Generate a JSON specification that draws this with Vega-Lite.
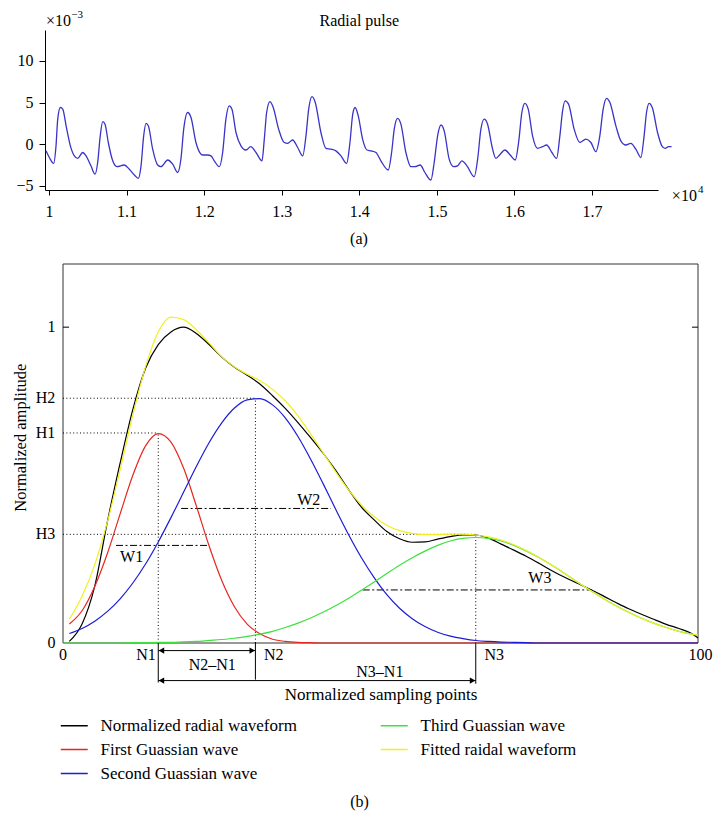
{
  "$schema": "https://vega.github.io/schema/vega-lite/v6.json",
  "background": "white",
  "padding": {"left": 12, "top": 9, "right": 0, "bottom": 0},
  "bounds": "flush",
  "spacing": 74,
  "config": {
    "view": {"stroke": null},
    "font": "Liberation Serif",
    "axis": {"labelFont": "Liberation Serif", "labelFontSize": 16, "labelColor": "black", "domainColor": "black", "tickColor": "black", "domainWidth": 1, "tickWidth": 1, "grid": false},
    "text": {"font": "Liberation Serif", "fontSize": 16, "color": "black"}
  },
  "datasets": {
    "pulse": [
      {"t":0.9961,"v":-0.8},{"t":1.0004,"v":-1.6},{"t":1.006,"v":-2.3},{"t":1.009,"v":-0.2},{"t":1.0112,"v":3.0},{"t":1.0146,"v":4.4},{"t":1.0177,"v":4.2},{"t":1.022,"v":2.2},{"t":1.0275,"v":-0.2},{"t":1.0326,"v":-1.4},{"t":1.037,"v":-1.7},{"t":1.0434,"v":-1.0},{"t":1.0477,"v":-1.4},{"t":1.054,"v":-2.6},{"t":1.0593,"v":-3.6},{"t":1.0627,"v":-2.2},{"t":1.066,"v":1.0},{"t":1.0692,"v":2.7},{"t":1.0722,"v":2.4},{"t":1.0764,"v":0.2},{"t":1.0821,"v":-2.0},{"t":1.0876,"v":-2.7},{"t":1.097,"v":-2.5},{"t":1.1035,"v":-3.0},{"t":1.11,"v":-3.7},{"t":1.1151,"v":-4.1},{"t":1.1186,"v":-2.6},{"t":1.122,"v":1.0},{"t":1.125,"v":2.5},{"t":1.128,"v":2.2},{"t":1.1336,"v":-0.6},{"t":1.14,"v":-2.5},{"t":1.1443,"v":-2.7},{"t":1.153,"v":-1.9},{"t":1.1594,"v":-2.4},{"t":1.1658,"v":-3.4},{"t":1.17,"v":-1.8},{"t":1.1736,"v":1.8},{"t":1.1787,"v":3.8},{"t":1.183,"v":3.2},{"t":1.1894,"v":0.2},{"t":1.195,"v":-1.1},{"t":1.198,"v":-1.3},{"t":1.2045,"v":-1.3},{"t":1.2088,"v":-1.4},{"t":1.213,"v":-2.0},{"t":1.2195,"v":-2.7},{"t":1.2238,"v":-1.0},{"t":1.228,"v":3.0},{"t":1.2323,"v":4.6},{"t":1.2358,"v":4.2},{"t":1.241,"v":1.4},{"t":1.2474,"v":-0.2},{"t":1.2539,"v":-0.7},{"t":1.26,"v":-0.3},{"t":1.2668,"v":-1.0},{"t":1.2745,"v":-2.0},{"t":1.2775,"v":0.6},{"t":1.2805,"v":3.8},{"t":1.2848,"v":5.1},{"t":1.289,"v":4.4},{"t":1.296,"v":1.8},{"t":1.3032,"v":0.2},{"t":1.3076,"v":0.1},{"t":1.314,"v":0.5},{"t":1.3205,"v":-0.4},{"t":1.327,"v":-1.4},{"t":1.3312,"v":1.0},{"t":1.3347,"v":4.2},{"t":1.339,"v":5.7},{"t":1.3432,"v":5.0},{"t":1.3505,"v":1.4},{"t":1.357,"v":-0.5},{"t":1.3634,"v":-0.6},{"t":1.3698,"v":-0.8},{"t":1.3763,"v":-1.4},{"t":1.3836,"v":-2.3},{"t":1.3879,"v":0.2},{"t":1.3915,"v":3.6},{"t":1.3945,"v":4.4},{"t":1.3986,"v":3.4},{"t":1.4042,"v":0.6},{"t":1.4098,"v":-0.7},{"t":1.415,"v":-0.8},{"t":1.4214,"v":-1.0},{"t":1.4278,"v":-2.0},{"t":1.4373,"v":-3.1},{"t":1.4416,"v":-1.0},{"t":1.445,"v":1.8},{"t":1.4493,"v":3.1},{"t":1.4536,"v":2.4},{"t":1.46,"v":-1.0},{"t":1.4665,"v":-2.7},{"t":1.4716,"v":-2.7},{"t":1.4785,"v":-2.5},{"t":1.4845,"v":-3.4},{"t":1.4923,"v":-4.3},{"t":1.4965,"v":-2.2},{"t":1.5009,"v":1.0},{"t":1.5052,"v":2.3},{"t":1.5094,"v":1.6},{"t":1.5158,"v":-1.8},{"t":1.5215,"v":-2.7},{"t":1.5267,"v":-2.6},{"t":1.5322,"v":-2.0},{"t":1.5387,"v":-2.6},{"t":1.5481,"v":-3.9},{"t":1.5525,"v":-1.8},{"t":1.5567,"v":1.8},{"t":1.561,"v":3.0},{"t":1.5653,"v":2.4},{"t":1.5718,"v":-0.6},{"t":1.576,"v":-1.7},{"t":1.5816,"v":-1.2},{"t":1.5876,"v":-0.7},{"t":1.5945,"v":-1.3},{"t":1.601,"v":-1.9},{"t":1.6053,"v":0.2},{"t":1.6095,"v":3.8},{"t":1.6134,"v":4.9},{"t":1.6177,"v":4.2},{"t":1.6233,"v":1.0},{"t":1.6298,"v":-0.5},{"t":1.6362,"v":-0.3},{"t":1.6414,"v":-0.1},{"t":1.6482,"v":-1.0},{"t":1.6543,"v":-1.7},{"t":1.6585,"v":1.0},{"t":1.662,"v":4.0},{"t":1.6653,"v":5.2},{"t":1.6697,"v":4.8},{"t":1.6769,"v":1.8},{"t":1.6843,"v":0.2},{"t":1.692,"v":0.6},{"t":1.6985,"v":0.2},{"t":1.7049,"v":-0.9},{"t":1.71,"v":1.0},{"t":1.7143,"v":4.2},{"t":1.7187,"v":5.5},{"t":1.723,"v":5.0},{"t":1.7307,"v":2.2},{"t":1.7371,"v":0.4},{"t":1.7436,"v":-0.1},{"t":1.75,"v":0.1},{"t":1.7564,"v":-0.6},{"t":1.7629,"v":-1.6},{"t":1.7671,"v":1.0},{"t":1.7702,"v":3.8},{"t":1.7736,"v":4.9},{"t":1.7779,"v":4.3},{"t":1.7844,"v":1.4},{"t":1.79,"v":-0.2},{"t":1.7942,"v":-0.5},{"t":1.7986,"v":-0.3},{"t":1.8025,"v":-0.3}
    ],
    "toptext": [
      {"x":1.4,"y":14.8,"t":"Radial pulse"},
      {"x":1.0122,"y":14.8,"t":"×10"},
      {"x":1.819,"y":-6.2,"t":"×10"},
      {"x":1.3995,"y":-11.4,"t":"(a)"}
    ],
    "topsup": [
      {"x":1.0361,"y":15.5,"t":"−3"},
      {"x":1.8402,"y":-5.5,"t":"4"}
    ],
    "curves": [
      {"N":0,"n":null,"r":null,"b":null,"g":0,"f":null},
      {"N":1,"n":0.005,"r":0.06,"b":0.03,"g":0,"f":0.075},
      {"N":3,"n":0.06,"r":0.102,"b":0.046,"g":0,"f":0.148},
      {"N":5,"n":0.18,"r":0.179,"b":0.069,"g":0,"f":0.248},
      {"N":7,"n":0.385,"r":0.284,"b":0.1,"g":0,"f":0.384},
      {"N":9,"n":0.57,"r":0.409,"b":0.14,"g":0,"f":0.549},
      {"N":11,"n":0.74,"r":0.531,"b":0.19,"g":0.001,"f":0.722},
      {"N":13,"n":0.87,"r":0.624,"b":0.25,"g":0.001,"f":0.875},
      {"N":15,"n":0.945,"r":0.663,"b":0.32,"g":0.002,"f":0.985},
      {"N":17,"n":0.985,"r":0.636,"b":0.397,"g":0.002,"f":1.032},
      {"N":19,"n":1.0,"r":0.553,"b":0.478,"g":0.004,"f":1.024},
      {"N":21,"n":0.98,"r":0.434,"b":0.559,"g":0.005,"f":0.992},
      {"N":23,"n":0.945,"r":0.308,"b":0.634,"g":0.008,"f":0.95},
      {"N":25,"n":0.905,"r":0.198,"b":0.697,"g":0.011,"f":0.906},
      {"N":27,"n":0.873,"r":0.115,"b":0.744,"g":0.015,"f":0.874},
      {"N":29,"n":0.848,"r":0.06,"b":0.77,"g":0.021,"f":0.851},
      {"N":31,"n":0.82,"r":0.029,"b":0.774,"g":0.028,"f":0.831},
      {"N":33,"n":0.783,"r":0.012,"b":0.754,"g":0.037,"f":0.803},
      {"N":35,"n":0.743,"r":0.005,"b":0.713,"g":0.049,"f":0.767},
      {"N":37,"n":0.698,"r":0.002,"b":0.654,"g":0.063,"f":0.719},
      {"N":39,"n":0.65,"r":0.001,"b":0.582,"g":0.079,"f":0.662},
      {"N":41,"n":0.6,"r":0,"b":0.503,"g":0.098,"f":0.601},
      {"N":43,"n":0.545,"r":0,"b":0.421,"g":0.119,"f":0.54},
      {"N":45,"n":0.485,"r":0,"b":0.342,"g":0.142,"f":0.484},
      {"N":47,"n":0.43,"r":0,"b":0.27,"g":0.167,"f":0.437},
      {"N":49,"n":0.39,"r":0,"b":0.207,"g":0.193,"f":0.4},
      {"N":51,"n":0.353,"r":0,"b":0.153,"g":0.22,"f":0.373},
      {"N":53,"n":0.33,"r":0,"b":0.11,"g":0.246,"f":0.356},
      {"N":55,"n":0.319,"r":0,"b":0.077,"g":0.27,"f":0.347},
      {"N":57,"n":0.32,"r":0,"b":0.052,"g":0.291,"f":0.343},
      {"N":59,"n":0.329,"r":0,"b":0.034,"g":0.309,"f":0.343},
      {"N":61,"n":0.337,"r":0,"b":0.022,"g":0.323,"f":0.345},
      {"N":63,"n":0.342,"r":0,"b":0.014,"g":0.331,"f":0.345},
      {"N":65,"n":0.342,"r":0,"b":0.008,"g":0.334,"f":0.342},
      {"N":67,"n":0.332,"r":0,"b":0.005,"g":0.331,"f":0.336},
      {"N":69,"n":0.313,"r":0,"b":0.003,"g":0.323,"f":0.326},
      {"N":71,"n":0.294,"r":0,"b":0.002,"g":0.309,"f":0.311},
      {"N":73,"n":0.274,"r":0,"b":0.001,"g":0.291,"f":0.292},
      {"N":75,"n":0.252,"r":0,"b":0,"g":0.27,"f":0.27},
      {"N":77,"n":0.229,"r":0,"b":0,"g":0.246,"f":0.246},
      {"N":79,"n":0.208,"r":0,"b":0,"g":0.22,"f":0.22},
      {"N":81,"n":0.189,"r":0,"b":0,"g":0.193,"f":0.193},
      {"N":83,"n":0.17,"r":0,"b":0,"g":0.167,"f":0.167},
      {"N":85,"n":0.15,"r":0,"b":0,"g":0.142,"f":0.142},
      {"N":87,"n":0.129,"r":0,"b":0,"g":0.119,"f":0.119},
      {"N":89,"n":0.109,"r":0,"b":0,"g":0.098,"f":0.098},
      {"N":91,"n":0.092,"r":0,"b":0,"g":0.079,"f":0.079},
      {"N":93,"n":0.075,"r":0,"b":0,"g":0.063,"f":0.063},
      {"N":95,"n":0.059,"r":0,"b":0,"g":0.049,"f":0.049},
      {"N":97,"n":0.046,"r":0,"b":0,"g":0.037,"f":0.037},
      {"N":99,"n":0.03,"r":0,"b":0,"g":0.028,"f":0.028},
      {"N":100,"n":0.016,"r":0,"b":0,"g":0.024,"f":0.026}
    ],
    "frame": [
      {"x":0,"x2":100,"y":0,"y2":0},
      {"x":0,"x2":100,"y":1.2,"y2":1.2},
      {"x":0,"x2":0,"y":0,"y2":1.2},
      {"x":100,"x2":100,"y":0,"y2":1.2}
    ],
    "dotted": [
      {"x":0,"x2":15,"y":0.665,"y2":0.665},
      {"x":0,"x2":30.3,"y":0.775,"y2":0.775},
      {"x":0,"x2":65,"y":0.344,"y2":0.344},
      {"x":15,"x2":15,"y":0,"y2":0.665},
      {"x":30.3,"x2":30.3,"y":0,"y2":0.775},
      {"x":65,"x2":65,"y":0,"y2":0.344}
    ],
    "dashdot": [
      {"x":8.35,"x2":22.8,"y":0.309,"y2":0.309},
      {"x":18.6,"x2":42.2,"y":0.426,"y2":0.426},
      {"x":47.2,"x2":83.3,"y":0.168,"y2":0.168}
    ],
    "solid": [
      {"x":15,"x2":15,"y":0,"y2":-0.125},
      {"x":30.3,"x2":30.3,"y":0,"y2":-0.116},
      {"x":65,"x2":65,"y":0,"y2":-0.129},
      {"x":15,"x2":30.3,"y":-0.024,"y2":-0.024},
      {"x":15,"x2":65,"y":-0.119,"y2":-0.119},
      {"x":0,"x2":0.95,"y":1,"y2":1},
      {"x":99.05,"x2":100,"y":1,"y2":1}
    ],
    "arrowL": [
      {"x":15.5,"y":-0.024},
      {"x":15.5,"y":-0.119}
    ],
    "arrowR": [
      {"x":29.8,"y":-0.024},
      {"x":64.5,"y":-0.119}
    ],
    "labR": [
      {"x":-1.2,"y":0,"t":"0"},
      {"x":-1.2,"y":0.344,"t":"H3"},
      {"x":-1.2,"y":0.665,"t":"H1"},
      {"x":-1.2,"y":0.775,"t":"H2"},
      {"x":-1.2,"y":1,"t":"1"},
      {"x":14.6,"y":-0.037,"t":"N1"}
    ],
    "labC": [
      {"x":0,"y":-0.037,"t":"0"},
      {"x":33.2,"y":-0.037,"t":"N2"},
      {"x":67.9,"y":-0.037,"t":"N3"},
      {"x":100.4,"y":-0.037,"t":"100"},
      {"x":23.5,"y":-0.069,"t":"N2–N1"},
      {"x":49.9,"y":-0.091,"t":"N3–N1"},
      {"x":10.8,"y":0.273,"t":"W1"},
      {"x":38.7,"y":0.454,"t":"W2"},
      {"x":75.1,"y":0.207,"t":"W3"},
      {"x":46.7,"y":-0.505,"t":"(b)"}
    ],
    "xtitle": [
      {"x":50.1,"y":-0.166,"t":"Normalized sampling points"}
    ],
    "ytitle": [
      {"x":-6.69,"y":0.65,"t":"Normalized amplitude"}
    ]
  },
  "vconcat": [
    {
      "width": 613,
      "height": 160,
      "layer": [
        {
          "data": {"name": "pulse"},
          "mark": {"type": "line", "color": "#3a33c8", "strokeWidth": 1.3, "interpolate": "monotone"},
          "encoding": {
            "x": {"field": "t", "type": "quantitative", "scale": {"domain": [0.9948, 1.785], "nice": false, "zero": false},
                  "axis": {"values": [1, 1.1, 1.2, 1.3, 1.4, 1.5, 1.6, 1.7], "format": "~g", "title": null, "tickSize": 5, "labelPadding": 8}},
            "y": {"field": "v", "type": "quantitative", "scale": {"domain": [-5.5, 13.7], "nice": false, "zero": false},
                  "axis": {"values": [-5, 0, 5, 10], "title": null, "tickSize": 6, "labelPadding": 6}}
          }
        },
        {
          "data": {"name": "toptext"},
          "mark": {"type": "text", "fontSize": 16, "align": "center", "baseline": "middle"},
          "encoding": {
            "x": {"field": "x", "type": "quantitative"},
            "y": {"field": "y", "type": "quantitative"},
            "text": {"field": "t"}
          }
        },
        {
          "data": {"name": "topsup"},
          "mark": {"type": "text", "fontSize": 11, "align": "center", "baseline": "middle"},
          "encoding": {
            "x": {"field": "x", "type": "quantitative"},
            "y": {"field": "y", "type": "quantitative"},
            "text": {"field": "t"}
          }
        }
      ]
    },
    {
      "width": 653,
      "height": 379,
      "layer": [
        {
          "data": {"name": "frame"},
          "mark": {"type": "rule", "color": "#333333", "strokeWidth": 1},
          "encoding": {
            "x": {"field": "x", "type": "quantitative", "scale": {"domain": [-2.835, 100], "nice": false, "zero": false}, "axis": null},
            "x2": {"field": "x2"},
            "y": {"field": "y", "type": "quantitative", "scale": {"domain": [0, 1.2], "nice": false, "zero": false}, "axis": null},
            "y2": {"field": "y2"}
          }
        },
        {
          "data": {"name": "dotted"},
          "mark": {"type": "rule", "color": "black", "strokeWidth": 1, "strokeDash": [1, 2.4]},
          "encoding": {
            "x": {"field": "x", "type": "quantitative", "axis": null},
            "x2": {"field": "x2"},
            "y": {"field": "y", "type": "quantitative", "axis": null},
            "y2": {"field": "y2"}
          }
        },
        {
          "data": {"name": "dashdot"},
          "mark": {"type": "rule", "color": "black", "strokeWidth": 1, "strokeDash": [7, 2.5, 2, 2.5]},
          "encoding": {
            "x": {"field": "x", "type": "quantitative", "axis": null},
            "x2": {"field": "x2"},
            "y": {"field": "y", "type": "quantitative", "axis": null},
            "y2": {"field": "y2"}
          }
        },
        {
          "data": {"name": "solid"},
          "mark": {"type": "rule", "color": "black", "strokeWidth": 1},
          "encoding": {
            "x": {"field": "x", "type": "quantitative", "axis": null},
            "x2": {"field": "x2"},
            "y": {"field": "y", "type": "quantitative", "axis": null},
            "y2": {"field": "y2"}
          }
        },
        {
          "data": {"name": "arrowL"},
          "mark": {"type": "point", "shape": "triangle-left", "filled": true, "color": "black", "size": 40, "opacity": 1},
          "encoding": {
            "x": {"field": "x", "type": "quantitative", "axis": null},
            "y": {"field": "y", "type": "quantitative", "axis": null}
          }
        },
        {
          "data": {"name": "arrowR"},
          "mark": {"type": "point", "shape": "triangle-right", "filled": true, "color": "black", "size": 40, "opacity": 1},
          "encoding": {
            "x": {"field": "x", "type": "quantitative", "axis": null},
            "y": {"field": "y", "type": "quantitative", "axis": null}
          }
        },
        {
          "data": {"name": "curves"},
          "mark": {"type": "line", "strokeWidth": 1.2, "interpolate": "monotone"},
          "encoding": {
            "x": {"field": "N", "type": "quantitative", "axis": null},
            "y": {"field": "n", "type": "quantitative", "axis": null},
            "color": {
              "datum": "Normalized radial waveform", "type": "nominal",
              "scale": {
                "domain": ["Normalized radial waveform", "First Guassian wave", "Second Guassian wave", "Third Guassian wave", "Fitted raidal waveform"],
                "range": ["#000000", "#e8261c", "#1c1cd6", "#3ee03e", "#f0f020"]
              },
              "legend": {
                "title": null, "orient": "none", "legendX": 20.75, "legendY": 687, "columns": 2,
                "symbolType": "M-2,0H2", "symbolSize": 182.25, "symbolStrokeWidth": 1.5,
                "labelFont": "Liberation Serif", "labelFontSize": 17, "labelColor": "black", "labelLimit": 400,
                "labelOffset": 17.75, "columnPadding": 80, "rowPadding": 6, "padding": 0
              }
            }
          }
        },
        {
          "data": {"name": "curves"},
          "mark": {"type": "line", "strokeWidth": 1.2, "interpolate": "monotone"},
          "encoding": {
            "x": {"field": "N", "type": "quantitative", "axis": null},
            "y": {"field": "r", "type": "quantitative", "axis": null},
            "color": {"datum": "First Guassian wave", "type": "nominal"}
          }
        },
        {
          "data": {"name": "curves"},
          "mark": {"type": "line", "strokeWidth": 1.2, "interpolate": "monotone"},
          "encoding": {
            "x": {"field": "N", "type": "quantitative", "axis": null},
            "y": {"field": "b", "type": "quantitative", "axis": null},
            "color": {"datum": "Second Guassian wave", "type": "nominal"}
          }
        },
        {
          "data": {"name": "curves"},
          "mark": {"type": "line", "strokeWidth": 1.2, "interpolate": "monotone"},
          "encoding": {
            "x": {"field": "N", "type": "quantitative", "axis": null},
            "y": {"field": "g", "type": "quantitative", "axis": null},
            "color": {"datum": "Third Guassian wave", "type": "nominal"}
          }
        },
        {
          "data": {"name": "curves"},
          "mark": {"type": "line", "strokeWidth": 1.2, "interpolate": "monotone"},
          "encoding": {
            "x": {"field": "N", "type": "quantitative", "axis": null},
            "y": {"field": "f", "type": "quantitative", "axis": null},
            "color": {"datum": "Fitted raidal waveform", "type": "nominal"}
          }
        },
        {
          "data": {"name": "labR"},
          "mark": {"type": "text", "fontSize": 16, "align": "right", "baseline": "middle"},
          "encoding": {
            "x": {"field": "x", "type": "quantitative", "axis": null},
            "y": {"field": "y", "type": "quantitative", "axis": null},
            "text": {"field": "t"}
          }
        },
        {
          "data": {"name": "labC"},
          "mark": {"type": "text", "fontSize": 16, "align": "center", "baseline": "middle"},
          "encoding": {
            "x": {"field": "x", "type": "quantitative", "axis": null},
            "y": {"field": "y", "type": "quantitative", "axis": null},
            "text": {"field": "t"}
          }
        },
        {
          "data": {"name": "xtitle"},
          "mark": {"type": "text", "fontSize": 17, "align": "center", "baseline": "middle"},
          "encoding": {
            "x": {"field": "x", "type": "quantitative", "axis": null},
            "y": {"field": "y", "type": "quantitative", "axis": null},
            "text": {"field": "t"}
          }
        },
        {
          "data": {"name": "ytitle"},
          "mark": {"type": "text", "fontSize": 16.5, "align": "center", "baseline": "middle", "angle": 270},
          "encoding": {
            "x": {"field": "x", "type": "quantitative", "axis": null},
            "y": {"field": "y", "type": "quantitative", "axis": null},
            "text": {"field": "t"}
          }
        }
      ]
    }
  ]
}
